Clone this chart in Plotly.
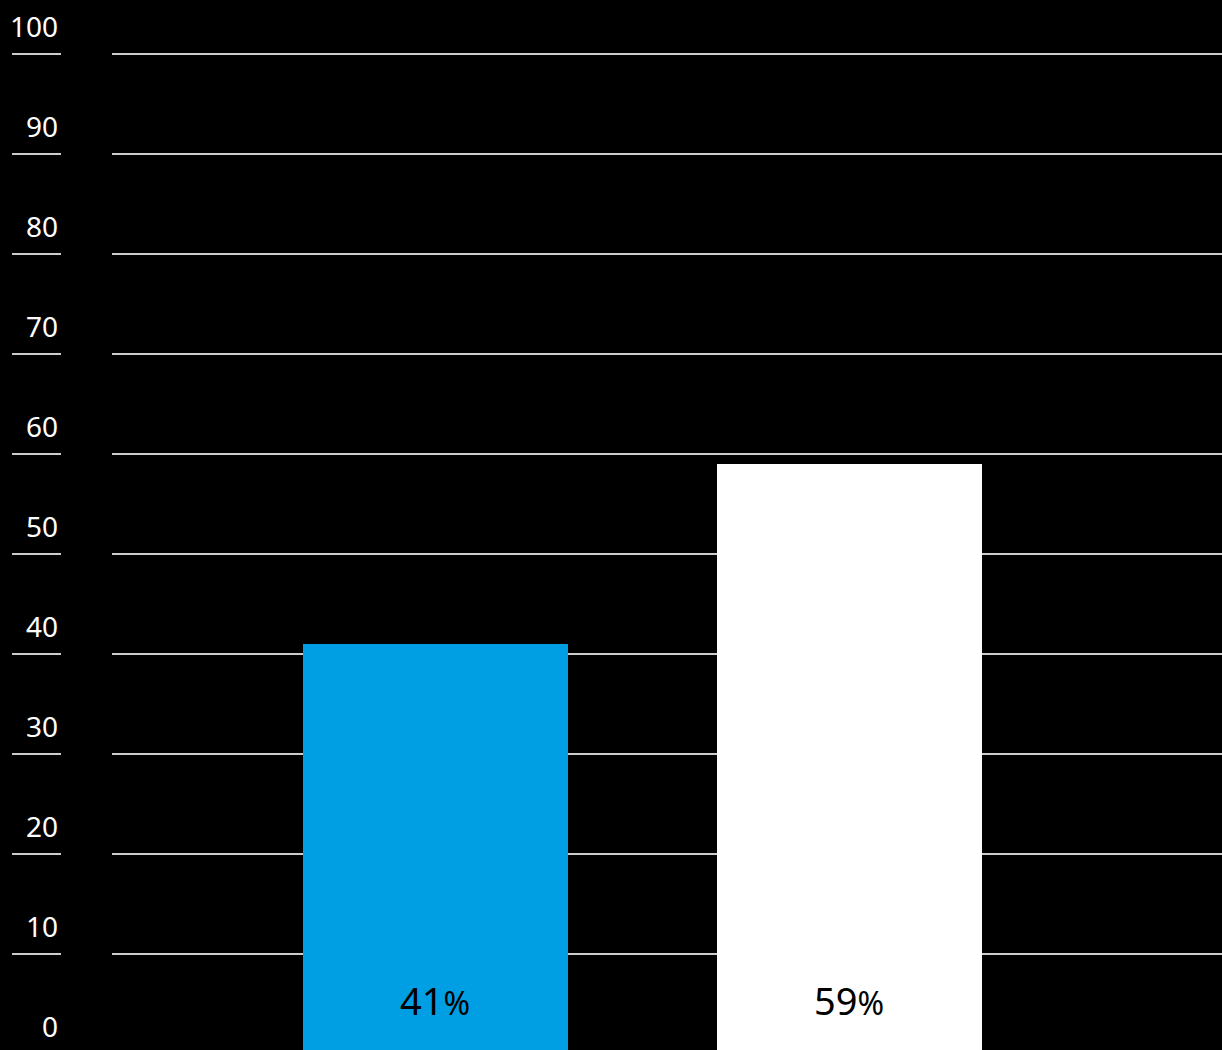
import plotly.graph_objects as go

categories = ["A", "B"]
values = [41, 59]
bar_colors = ["#009FE3", "#FFFFFF"]
bar_number_labels = ["41", "59"]
tick_values = [0, 10, 20, 30, 40, 50, 60, 70, 80, 90, 100]
tick_labels = ["0", "10", "20", "30", "40", "50", "60", "70", "80", "90", "100"]

FONT = "Noto Sans, DejaVu Sans, sans-serif"

fig = go.Figure()
fig.add_trace(go.Bar(
    x=[0, 1], y=values, marker=dict(color=bar_colors, line=dict(width=0)),
    width=0.64, hoverinfo="skip", showlegend=False,
))

shapes = []
annotations = []
for v, lab in zip(tick_values, tick_labels):
    if v > 0:
        shapes.append(dict(type="line", xref="paper", yref="y",
                           x0=112/1222, x1=1, y0=v, y1=v,
                           line=dict(color="#CCCCCC", width=2), layer="below"))
        shapes.append(dict(type="line", xref="paper", yref="y",
                           x0=12/1222, x1=61/1222, y0=v, y1=v,
                           line=dict(color="#CCCCCC", width=2)))
        annotations.append(dict(xref="paper", yref="y", x=60/1222, y=v,
                                text=lab, showarrow=False, xanchor="right",
                                yanchor="bottom", yshift=7,
                                font=dict(family=FONT, size=28, color="#FFFFFF")))
    else:
        annotations.append(dict(xref="paper", yref="paper", x=60/1222, y=0,
                                text=lab, showarrow=False, xanchor="right",
                                yanchor="bottom", yshift=3,
                                font=dict(family=FONT, size=28, color="#FFFFFF")))

for i, lab in enumerate(bar_number_labels):
    annotations.append(dict(xref="x", yref="paper", x=i, y=0,
                            text=lab + "<span style='font-size:32px'>%</span>",
                            showarrow=False, xanchor="center", yanchor="bottom",
                            yshift=22,
                            font=dict(family=FONT, size=38, color="#000000")))

fig.update_layout(
    width=1222, height=1050,
    margin=dict(l=0, r=0, t=0, b=0),
    paper_bgcolor="#000000", plot_bgcolor="#000000",
    xaxis=dict(domain=[112/1222, 1], range=[-0.781, 1.9], visible=False,
               showgrid=False, zeroline=False),
    yaxis=dict(range=[0.4, 105.4], visible=False, showgrid=False, zeroline=False),
    shapes=shapes, annotations=annotations, bargap=0,
)

fig.write_html("out.html")
